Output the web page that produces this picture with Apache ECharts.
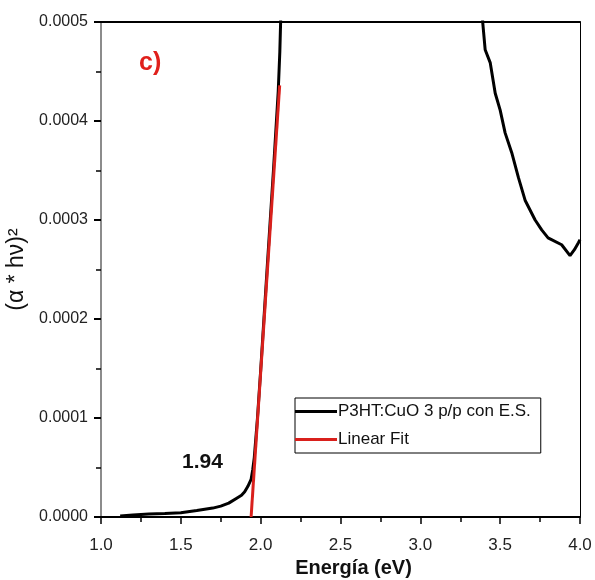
<!DOCTYPE html>
<html>
<head>
<meta charset="utf-8">
<script src="https://cdn.jsdelivr.net/npm/echarts@6/dist/echarts.min.js"></script>
<style>html,body{margin:0;padding:0;background:#fff}#c{width:595px;height:580px}</style>
</head>
<body>
<div id="c"></div>
<script>
var FONT = '"Liberation Sans",Arial,sans-serif';

// Measured curve: energy (eV) and (alpha*hv)^2
var sampleEnergy = [1.12, 1.2, 1.3, 1.4, 1.5, 1.6, 1.7, 1.75, 1.8, 1.85, 1.88, 1.9, 1.92, 1.94, 1.95, 1.96, 1.98, 2.0, 2.04, 2.08, 2.11, 2.12, 2.125, 2.13, 2.2, 2.6, 3.0, 3.3, 3.37,
  3.391, 3.406, 3.4375, 3.469, 3.5, 3.531, 3.5725, 3.614, 3.656, 3.719, 3.76, 3.80, 3.885, 3.9375, 3.965, 3.99, 4.0];
var sampleValue = [0.000001, 0.000002, 0.000003, 0.0000035, 0.0000043, 0.0000065, 0.000009, 0.000011, 0.000014, 0.000019, 0.000022, 0.0000255, 0.000031, 0.000038, 0.0000475, 0.00006, 0.0001, 0.000148, 0.00025, 0.00035, 0.00043, 0.00047, 0.0005, 0.00054, 0.0009, 0.0025, 0.003, 0.0012, 0.00056,
  0.000499, 0.000472, 0.000459, 0.000428, 0.000411, 0.000388, 0.000368, 0.000343, 0.00032, 0.0003, 0.00029, 0.000282, 0.000275, 0.000264, 0.00027, 0.000277, 0.00028];

// Linear fit line
var fitEnergy = [1.94, 2.119];
var fitValue = [0, 0.000436];

var seriesNames = ['P3HT:CuO 3 p/p con E.S.', 'Linear Fit'];
var xTicks = [1.0, 1.5, 2.0, 2.5, 3.0, 3.5, 4.0];
var yTicks = [0.0000, 0.0001, 0.0002, 0.0003, 0.0004, 0.0005];

function zip(a, b) { return a.map(function (v, i) { return [v, b[i]]; }); }

var chart = echarts.init(document.getElementById('c'), null, {renderer: 'canvas'});
chart.setOption({
  animation: false,
  backgroundColor: '#fff',
  grid: {left: 101, right: 15, top: 22, bottom: 63, containLabel: false, outerBoundsMode: 'none'},
  legend: {
    orient: 'vertical', left: 295, top: 398,
    backgroundColor: '#fff',
    borderColor: '#000', borderWidth: 1, borderRadius: 0,
    padding: [4, 10, 4, 0],
    itemGap: 9, itemWidth: 42, itemHeight: 3,
    textStyle: {fontFamily: FONT, fontSize: 17, color: '#111', padding: [0, 0, 0, -4], lineHeight: 19},
    data: seriesNames.map(function (n) { return {name: n, icon: 'rect'}; }),
    itemStyle: {borderWidth: 0}
  },
  xAxis: [{
    type: 'value', min: 1.0, max: 4.0, interval: 0.5,
    name: 'Energía (eV)', nameLocation: 'middle', nameGap: 37,
    nameTextStyle: {fontFamily: FONT, fontSize: 20, fontWeight: 'bold', color: '#111', padding: [0, 0, 0, 26]},
    axisLine: {show: true, onZero: false, lineStyle: {color: '#000', width: 2}},
    axisTick: {show: true, inside: false, length: 7, lineStyle: {color: '#000', width: 1.5}},
    minorTick: {show: true, splitNumber: 2, length: 5, lineStyle: {color: '#000', width: 1.5}},
    axisLabel: {margin: 20, fontFamily: FONT, fontSize: 17, color: '#222',
      formatter: function (v) { return v.toFixed(1); }},
    splitLine: {show: false}
  }, {
    type: 'value', min: 1.0, max: 4.0, position: 'top',
    axisLine: {show: true, onZero: false, lineStyle: {color: '#000', width: 2}},
    axisTick: {show: false}, axisLabel: {show: false}, splitLine: {show: false}
  }],
  yAxis: [{
    type: 'value', min: 0, max: 0.0005, interval: 0.0001,
    name: '(α * hν)²', nameLocation: 'middle', nameGap: 65, nameRotate: 90,
    nameTextStyle: {fontFamily: FONT, fontSize: 23, color: '#111'},
    axisLine: {show: true, onZero: false, lineStyle: {color: '#666', width: 1.5}},
    axisTick: {show: true, inside: false, length: 7, lineStyle: {color: '#000', width: 2}},
    minorTick: {show: true, splitNumber: 2, length: 5, lineStyle: {color: '#000', width: 1.5}},
    axisLabel: {margin: 13, fontFamily: FONT, fontSize: 16, color: '#222',
      formatter: function (v) { return v.toFixed(4); }},
    splitLine: {show: false}
  }, {
    type: 'value', min: 0, max: 0.0005, position: 'right',
    axisLine: {show: true, onZero: false, lineStyle: {color: '#000', width: 1}},
    axisTick: {show: false}, axisLabel: {show: false}, splitLine: {show: false}
  }],
  series: [{
    name: seriesNames[0], type: 'line', data: zip(sampleEnergy, sampleValue),
    showSymbol: false, symbol: 'none', clip: true, smooth: false,
    lineStyle: {color: '#000', width: 3}, itemStyle: {color: '#000'}, z: 2
  }, {
    name: seriesNames[1], type: 'line', data: zip(fitEnergy, fitValue),
    showSymbol: false, symbol: 'none', clip: true,
    lineStyle: {color: '#d9201c', width: 3}, itemStyle: {color: '#d9201c'}, z: 3
  }],
  graphic: [{
    type: 'text', left: 139, top: 51,
    style: {text: 'c)', fontFamily: FONT, fontSize: 25, fontWeight: 'bold', fill: '#e0201b'}
  }, {
    type: 'text', left: 182, top: 452,
    style: {text: '1.94', fontFamily: FONT, fontSize: 21, fontWeight: 'bold', fill: '#111'}
  }]
});
</script>
</body>
</html>
